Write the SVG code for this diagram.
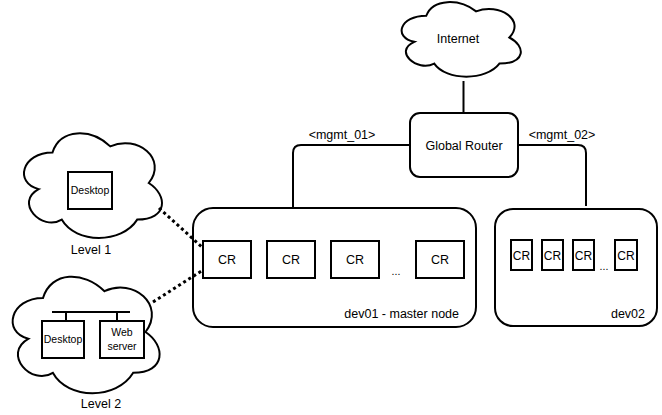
<svg xmlns="http://www.w3.org/2000/svg" width="662" height="415" viewBox="0 0 662 415">
<style>
  text { font-family: "Liberation Sans", Arial, sans-serif; fill: #000; }
  .t { font-size: 12.5px; text-anchor: middle; }
  .s { font-size: 10.5px; text-anchor: middle; }
  .c { font-size: 12px; text-anchor: middle; }
  .shape { fill: #fff; stroke: #000; stroke-width: 2; }
  .line { fill: none; stroke: #000; stroke-width: 2; }
  .dot { fill: none; stroke: #000; stroke-width: 3; stroke-dasharray: 3 3; }
</style>
<rect width="662" height="415" fill="#fff"/>
<g id="internet">
  <path class="shape" d="M426.25,15.75 C399.65,15.75 393,37.5 414.28,41.85 C393,51.42 416.94,72.3 434.23,63.6 C446.2,81 486.1,81 499.4,63.6 C526,63.6 526,46.2 509.38,37.5 C526,20.1 499.4,2.7 476.13,11.4 C459.5,-1.65 432.9,-1.65 426.25,15.75 Z"/>
  <text class="t" x="458" y="43">Internet</text>
</g>
<g id="global-router">
  <rect class="shape" x="410" y="113" width="108" height="64" rx="10"/>
  <text class="t" x="464" y="150">Global Router</text>
</g>
<g id="dev01">
  <rect class="shape" x="193" y="208" width="283" height="119" rx="20"/>
  <text x="459" y="318" style="font-size:12.5px;text-anchor:end">dev01 - master node</text>
  <rect class="shape" x="203" y="241" width="48" height="37"/>
  <text class="t" x="227" y="264">CR</text>
  <rect class="shape" x="267" y="241" width="48" height="37"/>
  <text class="t" x="291" y="264">CR</text>
  <rect class="shape" x="331" y="241" width="48" height="37"/>
  <text class="t" x="355" y="264">CR</text>
  <text class="s" x="396" y="275">...</text>
  <rect class="shape" x="416" y="241" width="48" height="37"/>
  <text class="t" x="440" y="264">CR</text>
</g>
<g id="dev02">
  <rect class="shape" x="495" y="209" width="162" height="117" rx="18"/>
  <text x="645" y="318" style="font-size:12.5px;text-anchor:end">dev02</text>
  <rect class="shape" x="511" y="240" width="21" height="30"/>
  <text class="c" x="521.5" y="259.5">CR</text>
  <rect class="shape" x="542" y="240" width="21" height="30"/>
  <text class="c" x="552.5" y="259.5">CR</text>
  <rect class="shape" x="573" y="240" width="21" height="30"/>
  <text class="c" x="583.5" y="259.5">CR</text>
  <text class="s" x="604" y="270">...</text>
  <rect class="shape" x="615" y="240" width="22" height="30"/>
  <text class="c" x="626" y="259.5">CR</text>
</g>
<g id="level1">
  <path class="shape" d="M52.5,152.5 C21.7,152.5 14,183 38.64,189.1 C14,202.52 41.72,231.8 61.74,219.6 C75.6,244 121.8,244 137.2,219.6 C168,219.6 168,195.2 148.75,183 C168,158.6 137.2,134.2 110.25,146.4 C91,128.1 60.2,128.1 52.5,152.5 Z"/>
  <rect class="shape" x="68" y="172" width="44" height="37"/>
  <text class="s" x="90" y="194">Desktop</text>
  <text class="t" x="91" y="254">Level 1</text>
</g>
<g id="level2">
  <path class="shape" d="M43,298 C10.2,298 2,332 28.24,338.8 C2,353.76 31.52,386.4 52.84,372.8 C67.6,400 116.8,400 133.2,372.8 C166,372.8 166,345.6 145.5,332 C166,304.8 133.2,277.6 104.5,291.2 C84,270.8 51.2,270.8 43,298 Z"/>
  <path class="line" d="M52,312 H130 M66,312 V321 M117,312 V321"/>
  <rect class="shape" x="42" y="321" width="42" height="37"/>
  <text class="s" x="63" y="343">Desktop</text>
  <rect class="shape" x="100" y="321" width="44" height="37"/>
  <text class="s" x="122" y="336">Web</text>
  <text class="s" x="122" y="350">server</text>
  <text class="t" x="101" y="408">Level 2</text>
</g>
<g id="connectors">
  <path class="line" d="M463.5,81 V113"/>
  <path class="line" d="M410,145 H301 Q293,145 293,153 V208"/>
  <path class="line" d="M518,145 H578 Q586,145 586,153 V206"/>
  <path class="dot" d="M159,208 L203,248"/>
  <path class="dot" d="M153,302 L203,270"/>
  <text class="t" x="342" y="139">&lt;mgmt_01&gt;</text>
  <text class="t" x="562" y="139">&lt;mgmt_02&gt;</text>
</g>
</svg>
